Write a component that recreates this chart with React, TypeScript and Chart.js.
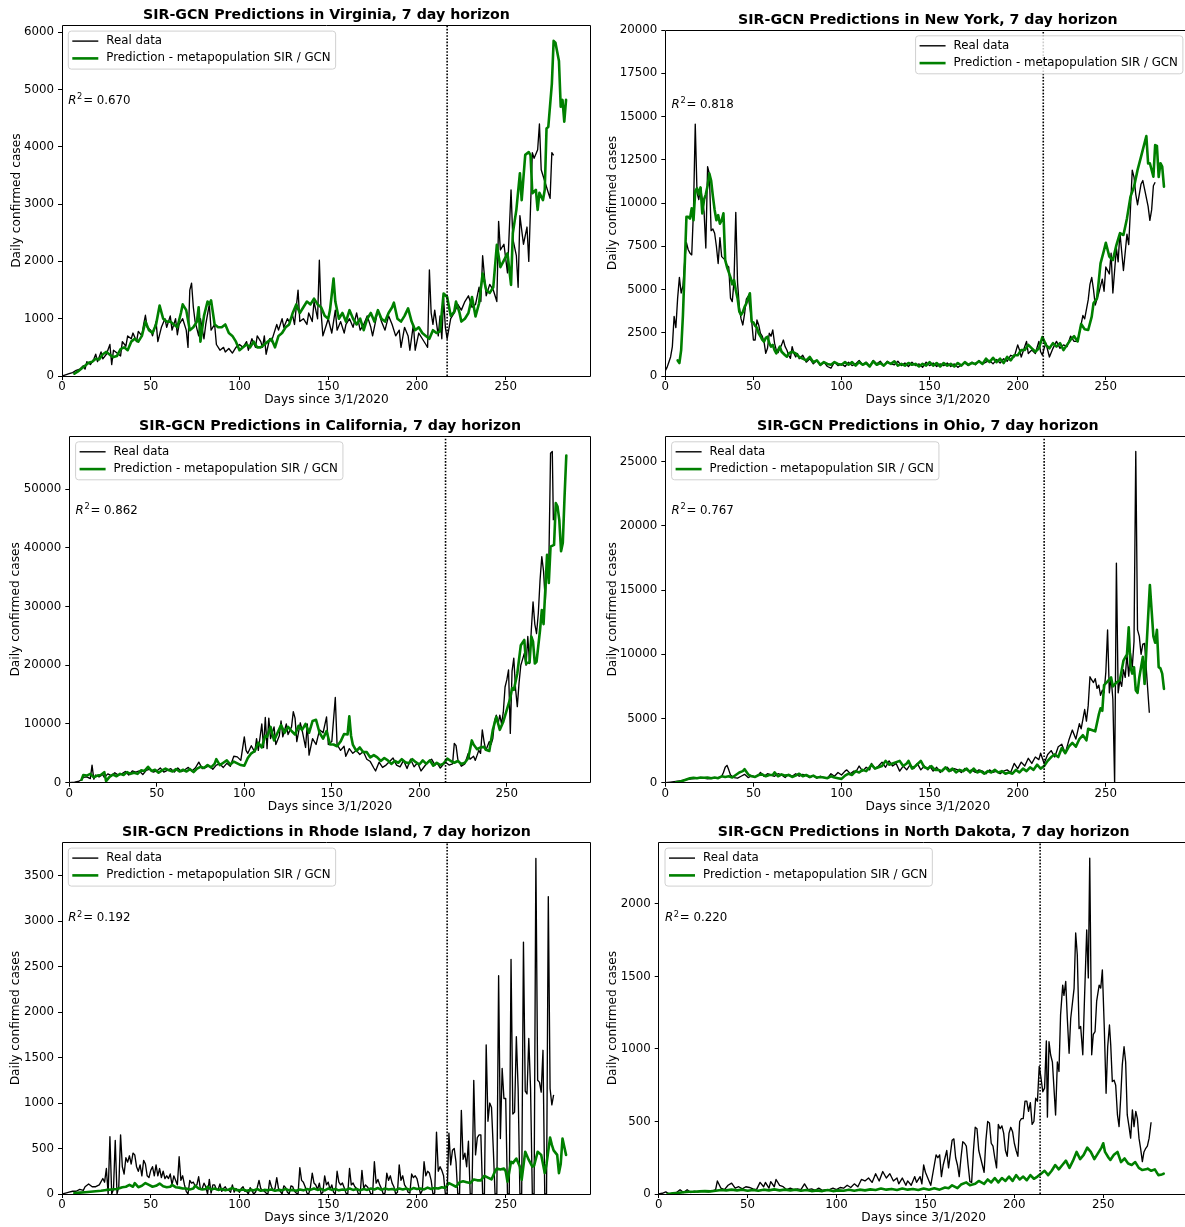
import React, { useEffect, useRef } from 'react';
import { Chart, registerables } from 'chart.js';

Chart.register(...registerables);

type Pt = [number, number];

// ---------------- data ----------------
const xTicks = [0, 50, 100, 150, 200, 250];
const dayMax = 298;

const vaYTicks = [0, 1000, 2000, 3000, 4000, 5000, 6000];
const nyYTicks = [0, 2500, 5000, 7500, 10000, 12500, 15000, 17500, 20000];
const caYTicks = [0, 10000, 20000, 30000, 40000, 50000];
const ohYTicks = [0, 5000, 10000, 15000, 20000, 25000];
const riYTicks = [0, 500, 1000, 1500, 2000, 2500, 3000, 3500];
const ndYTicks = [0, 500, 1000, 1500, 2000];

const yMaxes = [6122, 20000, 59030, 27000, 3867, 2425];
const splitDays = [217, 214.5, 215, 215, 217, 214.5];
const r2Values = ['0.670', '0.818', '0.862', '0.767', '0.192', '0.220'];
const states = ['Virginia', 'New York', 'California', 'Ohio', 'Rhode Island', 'North Dakota'];

const vaReal: Pt[] = [[0,0],[2,20],[4,40],[6,60],[8,100],[10,120],[12,180],[13,120],[14,250],[16,200],[18,300],[19,380],[20,250],[22,420],[23,300],[25,380],[27,550],[28,200],[29,450],[31,400],[33,350],[34,600],[36,520],[37,700],[39,650],[40,750],[42,600],[43,780],[45,700],[46,900],[47,1060],[48,850],[50,800],[51,700],[53,950],[54,600],[56,850],[58,1000],[59,850],[61,1050],[62,800],[64,1000],[65,720],[66,900],[68,1000],[70,800],[71,500],[72,1500],[73,1620],[74,1200],[75,950],[77,700],[78,1000],[80,650],[81,900],[83,1250],[84,800],[86,900],[87,550],[89,450],[91,500],[92,420],[94,480],[96,400],[98,500],[100,550],[102,500],[104,600],[105,450],[107,650],[109,500],[110,700],[112,600],[113,500],[114,700],[115,380],[117,650],[118,600],[119,700],[121,900],[122,800],[124,1000],[125,850],[127,1000],[128,950],[130,1050],[131,900],[133,1500],[134,950],[136,1000],[138,900],[139,1100],[141,950],[142,1300],[144,1000],[145,2020],[146,1100],[147,700],[149,900],[150,1000],[152,750],[154,1150],[155,800],[157,950],[159,750],[160,900],[162,1000],[164,850],[166,1100],[168,800],[170,900],[172,1050],[174,850],[175,700],[177,1000],[178,1150],[180,950],[182,800],[184,1050],[186,900],[188,700],[190,800],[191,500],[193,850],[195,700],[196,450],[198,900],[199,450],[201,750],[203,650],[205,550],[206,500],[207,1850],[208,1100],[209,900],[210,1150],[212,700],[213,1050],[214,650],[215,1350],[216,850],[217,650],[219,1000],[221,1100],[223,1250],[225,1150],[227,1300],[229,1400],[231,1200],[233,1250],[235,1550],[236,1300],[237,2100],[239,1400],[241,1600],[243,1500],[245,1300],[246,2700],[247,2200],[249,2300],[251,1800],[253,3250],[254,2400],[256,2100],[257,1550],[258,2800],[260,2300],[262,2600],[263,2000],[265,3900],[266,3800],[268,3950],[269,4400],[270,3600],[272,3400],[274,3200],[275,3100],[276,3900],[277,3850]];
const vaPred: Pt[] = [[7,40],[9,80],[11,130],[13,180],[15,230],[17,250],[19,300],[21,290],[23,380],[25,420],[27,370],[29,330],[31,350],[33,470],[35,500],[37,450],[39,600],[41,650],[43,600],[45,700],[47,950],[49,800],[51,750],[53,900],[55,1230],[57,1000],[59,950],[61,950],[63,900],[65,850],[67,1100],[68,1250],[70,1150],[72,800],[74,850],[76,950],[77,1200],[78,600],[80,1050],[82,1300],[83,1250],[84,1320],[86,900],[88,850],[90,850],[92,900],[94,750],[96,700],[98,600],[100,450],[102,500],[104,550],[106,500],[108,600],[110,500],[112,500],[114,550],[116,600],[118,650],[120,500],[122,700],[124,750],[126,850],[128,900],[130,1100],[132,1250],[134,1100],[136,1200],[138,1300],[140,1250],[142,1350],[144,1250],[146,1200],[148,1050],[150,1000],[151,1150],[153,1700],[154,1300],[156,1000],[158,1100],[160,950],[162,1150],[164,1000],[166,900],[168,1000],[170,800],[172,1000],[174,1100],[176,950],[178,1150],[180,1000],[182,950],[184,1100],[186,1200],[187,1280],[189,1000],[191,950],[193,1050],[195,1180],[197,950],[199,800],[201,850],[203,750],[205,700],[207,650],[209,800],[211,750],[213,780],[215,1440],[217,1380],[219,1050],[221,1120],[222,1300],[224,1100],[225,950],[227,1000],[229,1100],[231,1380],[233,1040],[235,1270],[237,1790],[239,1500],[241,1450],[243,1550],[245,2290],[247,1900],[249,2020],[251,2140],[253,1590],[254,2490],[256,2900],[258,3540],[259,3070],[261,3860],[263,3910],[264,3850],[265,3190],[267,3250],[268,2900],[269,3200],[271,3070],[272,3250],[273,4320],[274,4350],[276,5100],[277,5850],[278,5820],[280,5500],[281,4700],[282,4820],[283,4440],[284,4820]];

const nyReal: Pt[] = [[0,300],[1,500],[2,800],[3,1100],[4,1700],[5,3450],[6,2800],[7,4500],[8,5700],[9,4800],[10,5200],[11,6600],[12,7700],[13,7300],[14,7100],[15,7000],[16,9600],[17,14560],[18,10600],[19,10200],[20,10900],[21,10200],[22,9500],[23,7400],[24,12100],[25,11700],[26,8400],[27,8500],[28,8250],[29,7500],[30,6500],[31,8000],[32,6900],[33,6800],[34,6700],[35,6400],[36,6300],[37,4500],[38,4300],[39,5500],[40,9460],[41,5400],[42,4000],[43,3300],[44,2950],[45,3600],[46,4450],[47,4600],[48,4000],[49,3200],[50,2080],[51,2080],[52,3240],[53,2950],[54,2470],[55,2300],[56,2000],[57,1310],[58,1600],[59,2470],[60,2300],[61,2660],[62,1900],[63,1500],[64,1350],[65,1600],[66,1800],[67,2080],[68,1700],[69,1500],[70,1200],[71,1020],[72,1700],[73,1300],[74,1100],[75,1300],[76,1000],[78,1200],[80,800],[82,1000],[84,700],[86,900],[88,600],[90,800],[92,550],[94,450],[96,800],[98,600],[100,700],[102,550],[104,800],[106,600],[108,700],[110,900],[112,650],[114,800],[116,550],[118,900],[120,700],[122,850],[124,600],[126,850],[128,700],[130,650],[132,850],[134,600],[136,750],[138,550],[140,800],[142,600],[144,700],[146,500],[148,800],[150,600],[152,750],[154,550],[156,700],[158,600],[160,750],[162,550],[164,700],[166,500],[168,650],[170,750],[172,600],[174,800],[176,650],[178,900],[180,700],[182,800],[184,900],[186,700],[188,950],[190,750],[192,1000],[194,850],[196,1200],[198,1100],[200,1800],[201,1500],[202,1100],[204,1700],[205,2000],[206,1300],[208,1500],[210,1300],[212,2000],[213,1400],[214,1200],[215,1600],[216,1900],[218,1100],[220,1600],[222,2000],[224,1600],[226,1800],[228,1700],[230,2300],[232,2000],[234,2000],[236,3000],[237,3500],[238,3300],[240,4400],[241,5300],[242,5700],[243,5000],[244,4100],[246,4800],[248,5600],[249,4900],[250,6300],[252,5900],[253,7100],[254,4800],[256,7400],[257,6600],[258,8300],[259,7200],[260,6100],[262,8200],[263,7600],[264,9700],[265,11900],[266,11500],[267,10500],[268,9900],[270,11100],[271,11300],[272,10800],[274,9800],[275,9000],[276,9600],[277,11000],[278,11200]];
const nyPred: Pt[] = [[7,900],[8,750],[9,1500],[10,3500],[11,6300],[12,9200],[13,9200],[14,9100],[15,9700],[16,9000],[17,10700],[18,10850],[19,10500],[20,10900],[21,9400],[22,10200],[23,10500],[24,11000],[25,11700],[26,11300],[27,10400],[28,9600],[29,9000],[30,9300],[31,8800],[32,9000],[33,9400],[34,6700],[35,6300],[36,6000],[37,5700],[38,5300],[39,5550],[40,4970],[41,4500],[42,3720],[43,3530],[44,3700],[45,4000],[46,4200],[47,4500],[48,4780],[49,3140],[50,3100],[51,2900],[52,2800],[53,2470],[54,2300],[55,2100],[56,1980],[57,2200],[58,2270],[59,1900],[60,1700],[61,1800],[62,1500],[63,1310],[64,1500],[65,1700],[66,1400],[67,1300],[68,1200],[69,1120],[70,1300],[72,1400],[74,1310],[76,1100],[78,1000],[80,900],[82,1100],[84,800],[86,900],[88,650],[90,800],[92,700],[94,650],[96,800],[98,700],[100,650],[102,800],[104,650],[106,800],[108,600],[110,800],[112,650],[114,750],[116,550],[118,850],[120,650],[122,750],[124,600],[126,800],[128,700],[130,850],[132,600],[134,700],[136,600],[138,750],[140,650],[142,700],[144,550],[146,700],[148,600],[150,800],[152,600],[154,750],[156,550],[158,750],[160,600],[162,700],[164,550],[166,750],[168,600],[170,800],[172,650],[174,750],[176,700],[178,850],[180,700],[182,1000],[184,800],[186,1050],[188,800],[190,1000],[192,750],[194,1100],[196,900],[198,1200],[200,1200],[202,1500],[204,1500],[206,1800],[208,1600],[210,1400],[212,1600],[214,2250],[216,1800],[218,1600],[220,1900],[222,1700],[224,1900],[226,1500],[228,1800],[230,2100],[232,2300],[234,2000],[236,3000],[238,2700],[240,2660],[242,3430],[243,4200],[245,4490],[247,6510],[249,7280],[250,7700],[252,6900],[254,6700],[256,7570],[258,8250],[260,8150],[262,9110],[264,10370],[266,10940],[268,11900],[270,12680],[273,13870],[274,12290],[275,12300],[277,11520],[278,13350],[279,13300],[280,11500],[281,12300],[282,12100],[283,10940]];

const caReal: Pt[] = [[0,0],[3,100],[5,200],[7,500],[8,900],[10,1000],[12,700],[13,3000],[14,600],[15,1300],[17,1000],[19,1400],[20,900],[22,1500],[24,1200],[26,1700],[28,1300],[30,1500],[32,1900],[34,1300],[36,2000],[38,1800],[40,2000],[42,1400],[44,2100],[46,2300],[48,1800],[50,2000],[52,2500],[54,1800],[56,2100],[58,2400],[60,1800],[62,2500],[64,1900],[66,2200],[68,2600],[70,2000],[72,2500],[74,3500],[76,2400],[78,2600],[80,2900],[82,2300],[84,3000],[86,3200],[88,2600],[90,3300],[92,2800],[94,4500],[96,4400],[98,3800],[100,7800],[101,5500],[102,5000],[104,6300],[106,5200],[107,7500],[108,5500],[110,10000],[111,6000],[112,11100],[113,5800],[114,11000],[115,7500],[117,9500],[118,6500],[120,8000],[121,10500],[122,7800],[124,10000],[125,8200],[127,9500],[128,12100],[129,11000],[130,7000],[132,10200],[133,9000],[135,6000],[136,10000],[137,4700],[139,7500],[141,6500],[143,9000],[145,8500],[147,11200],[148,6500],[150,7000],[152,14500],[153,6500],[155,5500],[157,6200],[158,4500],[160,5800],[162,5000],[164,5500],[166,4800],[168,5300],[170,4000],[172,3600],[174,2500],[175,2000],[177,3500],[179,2600],[181,3000],[183,3600],[185,4200],[187,3000],[189,2700],[191,3800],[193,2400],[195,4000],[197,2700],[199,3400],[201,2000],[203,2800],[205,3600],[207,4000],[209,3000],[210,3400],[212,2500],[214,3200],[215,3500],[217,3000],[219,3200],[220,6700],[221,6300],[222,4000],[224,2800],[226,3200],[228,5000],[229,4000],[231,4500],[232,3800],[234,5500],[235,5000],[236,9000],[237,7000],[238,5500],[240,7000],[241,6500],[242,7500],[243,10500],[244,11500],[245,10000],[246,11500],[247,10000],[248,12000],[249,16300],[250,17500],[251,19200],[252,8400],[253,19000],[254,21200],[255,16000],[256,12950],[257,17000],[258,20000],[259,21000],[260,22000],[261,20000],[262,24900],[263,20300],[264,26000],[265,30800],[266,27000],[267,25400],[268,28800],[269,34500],[270,38500],[271,36000],[272,30800],[273,38500],[274,37000],[275,56100],[276,56400],[276.6,44700]];
const caPred: Pt[] = [[7,500],[8,1300],[10,1200],[12,1500],[14,900],[16,1200],[18,1300],[20,1800],[21,280],[23,1000],[25,1400],[27,1100],[29,1500],[31,1300],[33,1800],[35,1500],[37,1700],[39,1500],[41,2100],[43,2000],[45,2700],[47,2000],[49,2200],[51,1700],[53,2100],[55,2400],[57,2100],[59,1900],[61,2300],[63,1900],[65,2200],[67,1900],[69,2300],[71,1800],[73,2400],[75,2700],[77,2500],[79,3000],[81,2600],[83,3200],[84,4000],[86,3000],[88,3400],[90,3800],[92,3100],[94,3600],[96,3300],[98,3000],[100,2900],[102,4200],[104,5000],[106,5400],[108,6800],[110,6000],[112,8000],[113,7800],[115,9500],[117,7200],[119,8500],[121,9800],[123,8500],[125,9500],[127,8800],[129,8200],[131,9700],[133,9000],[135,10000],[137,8500],[139,10500],[141,10700],[143,8500],[145,7500],[147,8800],[149,6500],[151,6500],[153,6200],[155,7000],[157,8300],[159,8200],[160,11300],[161,8000],[162,6500],[164,5400],[166,6000],[168,5200],[170,5200],[172,4300],[174,4700],[176,4300],[178,3700],[180,4200],[182,3800],[184,3200],[186,3700],[188,3400],[190,4000],[192,3500],[194,3300],[196,4000],[198,3500],[200,3100],[202,3800],[204,3200],[206,3800],[208,2900],[210,3400],[212,3000],[214,3300],[216,4100],[218,3700],[220,3400],[222,3700],[224,3200],[226,3400],[228,4200],[230,7200],[231,6500],[233,5700],[235,6000],[237,6100],[238,5600],[240,5400],[242,9000],[244,11200],[245,10100],[246,9000],[248,10400],[250,12400],[252,14400],[253,16100],[254,15800],[256,18600],[258,23400],[260,24300],[261,20300],[263,20500],[264,24900],[265,24000],[266,20300],[267,20600],[269,26000],[270,29400],[271,27000],[273,38800],[274,34000],[275,40200],[277,40500],[278,47600],[279,47000],[280,44700],[281,39400],[282,40800],[283,48700],[284,55700]];

const ohReal: Pt[] = [[0,0],[3,50],[6,100],[9,150],[12,250],[15,300],[18,350],[21,380],[24,300],[27,350],[30,400],[32,500],[33,800],[34,1200],[35,1350],[36,1000],[37,600],[39,400],[41,350],[43,500],[45,650],[47,400],[49,550],[51,450],[53,600],[54,800],[56,500],[58,700],[60,600],[62,500],[64,700],[66,600],[68,400],[70,650],[72,500],[74,700],[76,500],[78,650],[80,550],[82,400],[84,550],[86,350],[88,500],[90,400],[92,350],[94,700],[96,500],[98,800],[100,600],[102,900],[103,1000],[105,700],[107,900],[108,800],[110,1300],[112,900],[114,1200],[116,1000],[117,1500],[119,1100],[121,1300],[123,1600],[125,1200],[127,1700],[129,1300],[131,1500],[133,900],[135,1300],[137,1000],[139,1400],[141,1100],[143,1500],[145,1000],[147,1300],[149,1000],[150,1300],[152,900],[154,1200],[156,800],[158,1100],[160,1200],[162,900],[164,1100],[166,1000],[168,800],[170,1100],[172,900],[174,1000],[176,800],[178,1000],[180,900],[182,700],[184,1000],[186,800],[188,900],[190,700],[192,900],[194,1000],[196,800],[198,1500],[200,1100],[202,1600],[204,1300],[206,1900],[208,1500],[210,2000],[212,1800],[213,2300],[215,1500],[217,2200],[219,2500],[221,2000],[223,2800],[225,3000],[227,2300],[229,3300],[231,4100],[233,3400],[235,4600],[236,4200],[238,5700],[239,4800],[240,6000],[241,8250],[242,8000],[243,7800],[244,8100],[245,7350],[246,7600],[247,6800],[248,7200],[249,7000],[250,8600],[251,11900],[252,7000],[253,8200],[254,6500],[255,0],[256,17100],[257,7000],[258,8000],[259,7500],[260,8800],[261,8200],[262,10000],[263,8300],[264,10100],[265,9000],[266,11000],[267,25800],[268,11900],[269,11400],[270,10000],[271,10800],[272,10850],[273,8800],[274.7,5450]];
const ohPred: Pt[] = [[6,30],[8,80],[10,150],[12,250],[14,350],[16,380],[18,350],[20,400],[22,380],[24,400],[26,350],[28,400],[30,350],[32,500],[34,450],[36,500],[38,400],[40,600],[42,800],[44,900],[45,1050],[47,650],[49,500],[51,450],[53,600],[55,650],[57,500],[59,600],[61,600],[62,800],[64,500],[66,650],[68,550],[70,600],[72,450],[74,550],[76,700],[78,500],[80,600],[82,450],[84,550],[86,400],[88,450],[90,400],[92,350],[94,500],[96,400],[98,350],[100,300],[102,550],[104,700],[106,600],[108,900],[110,800],[112,1000],[114,900],[116,1200],[117,1400],[119,1100],[121,1200],[123,1300],[125,1700],[127,1400],[129,1500],[131,1600],[133,1700],[135,1300],[137,1500],[138,1700],[140,1100],[142,1300],[145,1700],[147,1200],[149,1100],[151,1300],[153,1000],[155,1000],[157,900],[159,1200],[161,900],[163,1100],[165,800],[167,1000],[169,900],[171,1100],[173,800],[175,1100],[177,800],[179,900],[181,700],[183,900],[185,800],[187,1000],[189,800],[191,900],[193,700],[195,800],[197,700],[199,1000],[201,800],[203,1100],[205,900],[207,1200],[209,1000],[211,1400],[213,1100],[215,1300],[217,1700],[219,2000],[221,2200],[223,2000],[225,2700],[227,2300],[229,2800],[231,3100],[233,2800],[235,3400],[237,3700],[239,3300],[240,4200],[242,4100],[244,4000],[246,5300],[247,5800],[248,5600],[249,7600],[251,7900],[253,8200],[254,7500],[256,7800],[258,8000],[260,9500],[262,10000],[263,12100],[264,9000],[265,8500],[266,9000],[267,7200],[268,7000],[269,8200],[271,9800],[272,7700],[274,12900],[275,15400],[276,13400],[277,11400],[278,10900],[279,11900],[280,9000],[281,8900],[282,8500],[283,7300]];

const riReal: Pt[] = [[0,0],[2,10],[4,20],[6,30],[8,30],[10,50],[12,40],[13,80],[15,110],[17,80],[19,80],[21,100],[23,170],[24,130],[25,280],[26,0],[27,630],[28,0],[29,50],[30,590],[31,0],[32,80],[33,650],[34,300],[35,220],[36,400],[37,350],[38,420],[39,330],[40,450],[41,430],[42,300],[43,250],[44,320],[45,200],[46,370],[47,330],[48,200],[49,180],[50,260],[51,300],[52,200],[53,320],[54,200],[55,280],[56,180],[57,250],[58,170],[59,200],[60,170],[61,220],[62,100],[63,200],[64,150],[65,100],[66,410],[67,150],[68,200],[69,100],[70,30],[71,0],[72,150],[73,120],[74,130],[75,90],[76,100],[77,190],[78,50],[79,60],[80,120],[81,80],[82,0],[83,160],[84,10],[85,100],[86,100],[87,50],[88,50],[89,110],[90,30],[91,60],[92,80],[93,40],[94,40],[95,20],[96,100],[97,20],[98,60],[99,40],[100,20],[101,60],[102,80],[103,30],[104,30],[105,0],[106,70],[107,40],[108,0],[109,20],[110,70],[111,150],[112,60],[113,40],[114,30],[115,10],[116,0],[117,150],[118,80],[119,40],[120,60],[121,180],[122,60],[123,30],[124,0],[125,90],[126,70],[127,20],[128,0],[129,90],[130,80],[131,30],[132,10],[133,0],[134,290],[135,150],[136,130],[137,80],[138,10],[139,0],[140,80],[141,230],[142,120],[143,100],[144,50],[145,120],[146,0],[147,20],[148,200],[149,100],[150,130],[151,50],[152,100],[153,20],[154,0],[155,250],[156,130],[157,100],[158,120],[159,70],[160,10],[161,0],[162,280],[163,100],[164,120],[165,80],[166,60],[167,0],[168,0],[169,260],[170,60],[171,100],[172,80],[173,50],[174,0],[175,0],[176,355],[177,120],[178,160],[179,100],[180,60],[181,0],[182,10],[183,230],[184,150],[185,200],[186,120],[187,80],[188,0],[189,20],[190,320],[191,150],[192,200],[193,100],[194,70],[195,20],[196,10],[197,220],[198,180],[199,200],[200,170],[201,80],[202,0],[203,40],[204,355],[205,200],[206,250],[207,230],[208,150],[209,0],[210,10],[211,680],[212,250],[213,300],[214,260],[215,200],[216,0],[217,0],[218,670],[219,320],[220,480],[221,500],[222,350],[223,0],[224,0],[225,920],[226,380],[227,450],[228,300],[229,580],[230,0],[231,0],[232,1250],[233,430],[234,620],[235,650],[236,650],[237,0],[238,0],[239,1640],[240,800],[241,1000],[242,950],[243,500],[244,0],[245,0],[246,2400],[247,610],[248,1380],[249,1050],[250,1050],[251,0],[252,0],[253,2580],[254,880],[255,900],[256,1730],[257,1160],[258,0],[259,0],[260,2770],[261,1130],[262,1100],[263,1710],[264,1160],[265,0],[266,0],[267,3690],[268,1250],[269,1230],[270,1120],[271,1580],[272,0],[273,0],[274,3270],[275,1160],[276,980],[277,1090]];
const riPred: Pt[] = [[7,10],[10,15],[13,20],[16,25],[19,30],[22,35],[25,45],[28,50],[31,55],[34,75],[36,80],[38,100],[40,80],[41,120],[43,75],[45,90],[47,120],[49,100],[51,80],[53,90],[55,115],[57,85],[59,75],[61,80],[62,100],[64,75],[66,70],[68,60],[70,60],[72,50],[74,60],[75,90],[77,60],[79,50],[81,55],[82,80],[84,50],[86,60],[88,45],[90,55],[92,40],[94,50],[96,65],[98,45],[100,40],[102,50],[104,35],[106,45],[108,40],[110,55],[112,35],[114,45],[116,40],[118,50],[120,35],[122,45],[124,40],[126,55],[128,40],[130,45],[132,35],[134,50],[136,40],[138,55],[140,45],[142,60],[144,45],[146,55],[148,40],[150,60],[152,45],[154,55],[156,40],[158,50],[160,45],[162,60],[164,45],[166,55],[168,40],[170,55],[172,45],[174,60],[176,50],[178,65],[180,45],[182,60],[184,50],[186,55],[188,45],[190,60],[192,50],[194,60],[196,45],[198,65],[200,55],[202,60],[204,50],[206,70],[208,55],[210,65],[212,60],[214,75],[216,65],[218,120],[220,100],[222,80],[224,130],[226,140],[228,130],[230,120],[232,160],[234,150],[236,150],[238,200],[240,180],[242,160],[244,250],[245,280],[247,270],[249,280],[250,250],[251,135],[253,355],[254,340],[256,390],[258,300],[259,155],[261,465],[263,375],[265,300],[266,310],[268,465],[270,430],[272,230],[273,330],[275,620],[276,540],[277,480],[279,430],[280,230],[281,330],[282,610],[283,520],[284,430]];

const ndReal: Pt[] = [[0,0],[2,5],[4,15],[6,0],[8,5],[10,10],[12,30],[14,10],[16,30],[18,10],[20,20],[22,15],[25,20],[28,15],[30,20],[32,30],[33,90],[35,40],[37,30],[39,60],[41,75],[43,40],[45,50],[47,35],[49,50],[51,45],[53,35],[55,30],[57,80],[59,50],[60,80],[62,40],[63,85],[65,50],[66,100],[68,60],[70,50],[72,30],[74,40],[76,30],[78,35],[80,30],[82,70],[84,30],[86,35],[88,25],[90,40],[92,25],[94,30],[96,30],[98,40],[100,30],[102,45],[104,40],[106,60],[108,45],[110,70],[112,50],[114,100],[116,90],[118,110],[120,80],[122,140],[124,90],[126,155],[128,110],[130,140],[132,90],[134,110],[135,70],[137,110],[139,60],[140,90],[142,60],[144,120],[145,80],[147,120],[148,70],[149,200],[150,150],[152,90],[153,60],[155,200],[156,270],[157,250],[158,270],[159,120],[160,200],[162,300],[163,180],[165,370],[166,380],[167,250],[168,200],[169,120],[170,250],[171,360],[172,350],[173,330],[174,200],[175,85],[176,80],[177,300],[178,460],[179,450],[180,300],[181,250],[182,200],[183,150],[184,370],[185,500],[186,490],[187,350],[188,330],[189,250],[190,180],[191,480],[192,450],[193,470],[194,420],[195,300],[196,260],[197,420],[198,460],[199,430],[200,350],[201,300],[202,260],[203,500],[204,520],[205,520],[206,640],[207,640],[208,570],[209,630],[210,480],[211,500],[212,660],[213,640],[214,880],[215,800],[216,705],[217,730],[218,1055],[218.6,530],[219.5,1050],[220.4,960],[221.4,910],[223.2,545],[224.2,910],[225.1,845],[226,1235],[227.2,1440],[227.9,1370],[228.9,1465],[229.8,1210],[230.8,970],[231.7,1210],[233.6,1418],[234.5,1800],[235.4,1650],[236.4,1140],[237.3,1155],[238.5,960],[239.4,1325],[240.7,1820],[241.6,1490],[242.4,2315],[243.5,960],[244.4,1100],[245.4,1120],[246.3,1330],[247.7,1440],[248.6,1420],[249.5,1545],[250.6,1140],[251.6,695],[252.5,1015],[253.5,1165],[254.2,1030],[255.1,775],[256.1,785],[257,750],[258,545],[258.9,465],[259.8,660],[260.7,890],[261.7,1015],[262.6,910],[263.5,545],[264.5,465],[265.4,385],[266.4,580],[267.3,465],[268.3,570],[269.2,520],[270.1,385],[271,315],[272,223],[272.9,290],[273.9,315],[274.8,330],[275.8,385],[276.9,495]];
const ndPred: Pt[] = [[5,0],[8,5],[11,8],[14,12],[17,15],[20,15],[23,18],[26,20],[29,18],[32,22],[35,28],[38,25],[41,30],[44,25],[47,30],[50,22],[53,28],[56,22],[59,30],[62,25],[65,32],[68,25],[71,30],[74,25],[77,30],[80,22],[83,28],[86,20],[89,25],[92,20],[95,28],[98,20],[101,25],[104,22],[107,30],[110,22],[113,30],[116,25],[119,32],[122,28],[125,38],[128,30],[131,35],[134,28],[137,38],[140,30],[143,35],[146,28],[149,38],[152,30],[155,40],[158,30],[161,45],[163,40],[165,60],[168,40],[170,65],[173,80],[175,60],[178,70],[180,90],[183,70],[185,100],[187,80],[189,110],[191,80],[193,110],[195,90],[197,120],[199,90],[201,130],[203,100],[205,120],[207,95],[209,130],[211,105],[213,120],[215,140],[217,160],[219,130],[221,160],[223,200],[225,170],[227,200],[229,230],[231,180],[233,230],[235,290],[237,240],[239,270],[241,320],[243,290],[245,240],[247,280],[249,320],[250,350],[251,290],[253,250],[254,235],[256,270],[258,290],[260,220],[262,245],[264,210],[266,200],[268,220],[270,180],[272,165],[274,170],[275,175],[277,160],[279,170],[281,130],[283,135],[284,140]];

const realSeries = [vaReal, nyReal, caReal, ohReal, riReal, ndReal];
const predSeries = [vaPred, nyPred, caPred, ohPred, riPred, ndPred];
const yTickSets = [vaYTicks, nyYTicks, caYTicks, ohYTicks, riYTicks, ndYTicks];

// ---------------- layout (pixel geometry, not data) ----------------
const CANVAS_W = 1195;
const CANVAS_H = 1227;
const FS = 11.8;
const FAMILY = 'DejaVu Sans';

interface Box { left: number; right: number; top: number; bottom: number; legend: 'left' | 'right'; yTitleX: number; }
const boxes: Box[] = [
  { left: 62, right: 590.9, top: 25.3, bottom: 376, legend: 'left', yTitleX: 16.5 },
  { left: 665.3, right: 1190.4, top: 30, bottom: 376, legend: 'right', yTitleX: 612.7 },
  { left: 69.3, right: 590.8, top: 436, bottom: 782.7, legend: 'left', yTitleX: 16.3 },
  { left: 665.3, right: 1190.4, top: 436, bottom: 782.7, legend: 'left', yTitleX: 612.7 },
  { left: 62, right: 590.9, top: 842.3, bottom: 1194, legend: 'left', yTitleX: 16.3 },
  { left: 658.7, right: 1188.6, top: 842.3, bottom: 1194, legend: 'left', yTitleX: 612.7 },
];

const Y_AXIS_W = 56;
const X_AXIS_H = 30;

function decorPlugin(i: number) {
  const b = boxes[i];
  return {
    id: 'decor' + i,
    afterDraw(chart: any) {
      const ctx: CanvasRenderingContext2D = chart.ctx;
      const { left, right, top, bottom } = chart.chartArea;
      const a = (p: number) => Math.round(p - 0.5) + 0.5;
      ctx.save();
      // spines
      ctx.strokeStyle = '#000';
      ctx.lineWidth = 1;
      ctx.beginPath();
      ctx.moveTo(a(left), a(top));
      ctx.lineTo(a(right), a(top));
      ctx.lineTo(a(right), a(bottom));
      ctx.lineTo(a(left), a(bottom));
      ctx.closePath();
      ctx.stroke();

      // title
      ctx.fillStyle = '#000';
      ctx.font = `bold 14.2px "${FAMILY}"`;
      ctx.textAlign = 'center';
      ctx.textBaseline = 'middle';
      ctx.fillText(`SIR-GCN Predictions in ${states[i]}, 7 day horizon`, (left + right) / 2, top - 9.8);

      // axis titles
      ctx.font = `12.2px "${FAMILY}"`;
      ctx.fillText('Days since 3/1/2020', (left + right) / 2, bottom + 24.3);
      ctx.save();
      ctx.translate(b.yTitleX, (top + bottom) / 2);
      ctx.rotate(-Math.PI / 2);
      ctx.fillText('Daily confirmed cases', 0, 0);
      ctx.restore();

      // legend
      ctx.font = `${FS}px "${FAMILY}"`;
      const t1 = 'Real data';
      const t2 = 'Prediction - metapopulation SIR / GCN';
      const tw = Math.max(ctx.measureText(t1).width, ctx.measureText(t2).width);
      const w = 38 + tw + 5;
      const h = 38;
      const bx = b.legend === 'left' ? left + 6.3 : right - 7.5 - w;
      const by = top + 5.8;
      ctx.beginPath();
      const r = 3;
      ctx.moveTo(bx + r, by);
      ctx.lineTo(bx + w - r, by);
      ctx.quadraticCurveTo(bx + w, by, bx + w, by + r);
      ctx.lineTo(bx + w, by + h - r);
      ctx.quadraticCurveTo(bx + w, by + h, bx + w - r, by + h);
      ctx.lineTo(bx + r, by + h);
      ctx.quadraticCurveTo(bx, by + h, bx, by + h - r);
      ctx.lineTo(bx, by + r);
      ctx.quadraticCurveTo(bx, by, bx + r, by);
      ctx.closePath();
      ctx.fillStyle = 'rgba(255,255,255,0.8)';
      ctx.fill();
      ctx.strokeStyle = '#d0d0d0';
      ctx.lineWidth = 1;
      ctx.stroke();

      ctx.lineCap = 'butt';
      ctx.strokeStyle = '#000';
      ctx.lineWidth = 1.4;
      ctx.beginPath();
      ctx.moveTo(bx + 4, by + 10);
      ctx.lineTo(bx + 30, by + 10);
      ctx.stroke();
      ctx.strokeStyle = '#008000';
      ctx.lineWidth = 2.6;
      ctx.beginPath();
      ctx.moveTo(bx + 4, by + 27.3);
      ctx.lineTo(bx + 30, by + 27.3);
      ctx.stroke();
      ctx.fillStyle = '#000';
      ctx.textAlign = 'left';
      ctx.textBaseline = 'middle';
      ctx.fillText(t1, bx + 38, by + 10);
      ctx.fillText(t2, bx + 38, by + 27.3);

      // R^2 annotation
      const rx = left + 6.3;
      const ryc = top + 0.213 * (bottom - top);
      const base = ryc + 0.36 * FS;
      ctx.textBaseline = 'alphabetic';
      ctx.font = `italic ${FS}px "${FAMILY}"`;
      ctx.fillText('R', rx, base);
      let x = rx + ctx.measureText('R').width + 0.6;
      ctx.font = `${FS * 0.7}px "${FAMILY}"`;
      ctx.fillText('2', x, base - 0.42 * FS);
      x += ctx.measureText('2').width + 0.8;
      ctx.font = `${FS}px "${FAMILY}"`;
      ctx.fillText('= ' + r2Values[i], x, base);
      ctx.restore();
    },
  };
}

function buildConfig(i: number): any {
  const b = boxes[i];
  const yMax = yMaxes[i];
  const split = splitDays[i];
  const yTicks = yTickSets[i];
  const toXY = (arr: Pt[]) => arr.map(([x, y]) => ({ x, y }));
  const tickFont = { family: FAMILY, size: FS };
  return {
    type: 'line',
    data: {
      datasets: [
        {
          label: 'split',
          data: [{ x: split, y: 0 }, { x: split, y: yMax }],
          borderColor: '#000',
          borderWidth: 1.6,
          borderDash: [1.6, 1.6],
          pointRadius: 0,
          order: 0,
        },
        {
          label: 'Prediction - metapopulation SIR / GCN',
          data: toXY(predSeries[i]),
          borderColor: '#008000',
          borderWidth: 2.6,
          borderJoinStyle: 'round',
          borderCapStyle: 'round',
          pointRadius: 0,
          tension: 0,
          order: 1,
        },
        {
          label: 'Real data',
          data: toXY(realSeries[i]),
          borderColor: '#000',
          borderWidth: 1.35,
          borderJoinStyle: 'round',
          pointRadius: 0,
          tension: 0,
          order: 2,
        },
      ],
    },
    options: {
      responsive: false,
      animation: false,
      events: [],
      layout: {
        padding: {
          left: b.left - Y_AXIS_W,
          right: CANVAS_W - b.right,
          top: b.top,
          bottom: CANVAS_H - b.bottom - X_AXIS_H,
        },
      },
      plugins: {
        legend: { display: false },
        tooltip: { enabled: false },
        title: { display: false },
      },
      scales: {
        x: {
          type: 'linear',
          position: 'bottom',
          min: 0,
          max: dayMax,
          afterBuildTicks: (s: any) => { s.ticks = xTicks.map((v) => ({ value: v })); },
          afterFit: (s: any) => { s.height = X_AXIS_H; },
          ticks: {
            autoSkip: false,
            maxRotation: 0,
            minRotation: 0,
            color: '#000',
            font: tickFont,
            padding: 0,
            callback: (v: any) => String(v),
          },
          grid: { display: true, drawOnChartArea: false, drawTicks: true, tickLength: 4, tickColor: '#000', tickWidth: 1 },
          border: { display: false },
        },
        y: {
          type: 'linear',
          position: 'left',
          min: 0,
          max: yMax,
          afterBuildTicks: (s: any) => { s.ticks = yTicks.map((v) => ({ value: v })); },
          afterFit: (s: any) => { s.width = Y_AXIS_W; },
          ticks: {
            autoSkip: false,
            color: '#000',
            font: tickFont,
            padding: 4,
            callback: (v: any) => String(v),
          },
          grid: { display: true, drawOnChartArea: false, drawTicks: true, tickLength: 4, tickColor: '#000', tickWidth: 1 },
          border: { display: false },
        },
      },
    },
    plugins: [decorPlugin(i)],
  };
}

function Panel({ index }: { index: number }) {
  const ref = useRef<HTMLCanvasElement>(null);
  useEffect(() => {
    if (!ref.current) return;
    const chart = new Chart(ref.current, buildConfig(index));
    return () => chart.destroy();
  }, [index]);
  return (
    <canvas
      ref={ref}
      width={CANVAS_W}
      height={CANVAS_H}
      style={{ position: 'absolute', left: 0, top: 0, width: CANVAS_W, height: CANVAS_H }}
    />
  );
}

export default function App() {
  return (
    <div
      style={{
        position: 'absolute',
        left: 0,
        top: 0,
        width: 1185,
        height: 1227,
        overflow: 'hidden',
        background: '#fff',
      }}
    >
      {[0, 1, 2, 3, 4, 5].map((i) => (
        <Panel key={i} index={i} />
      ))}
    </div>
  );
}
